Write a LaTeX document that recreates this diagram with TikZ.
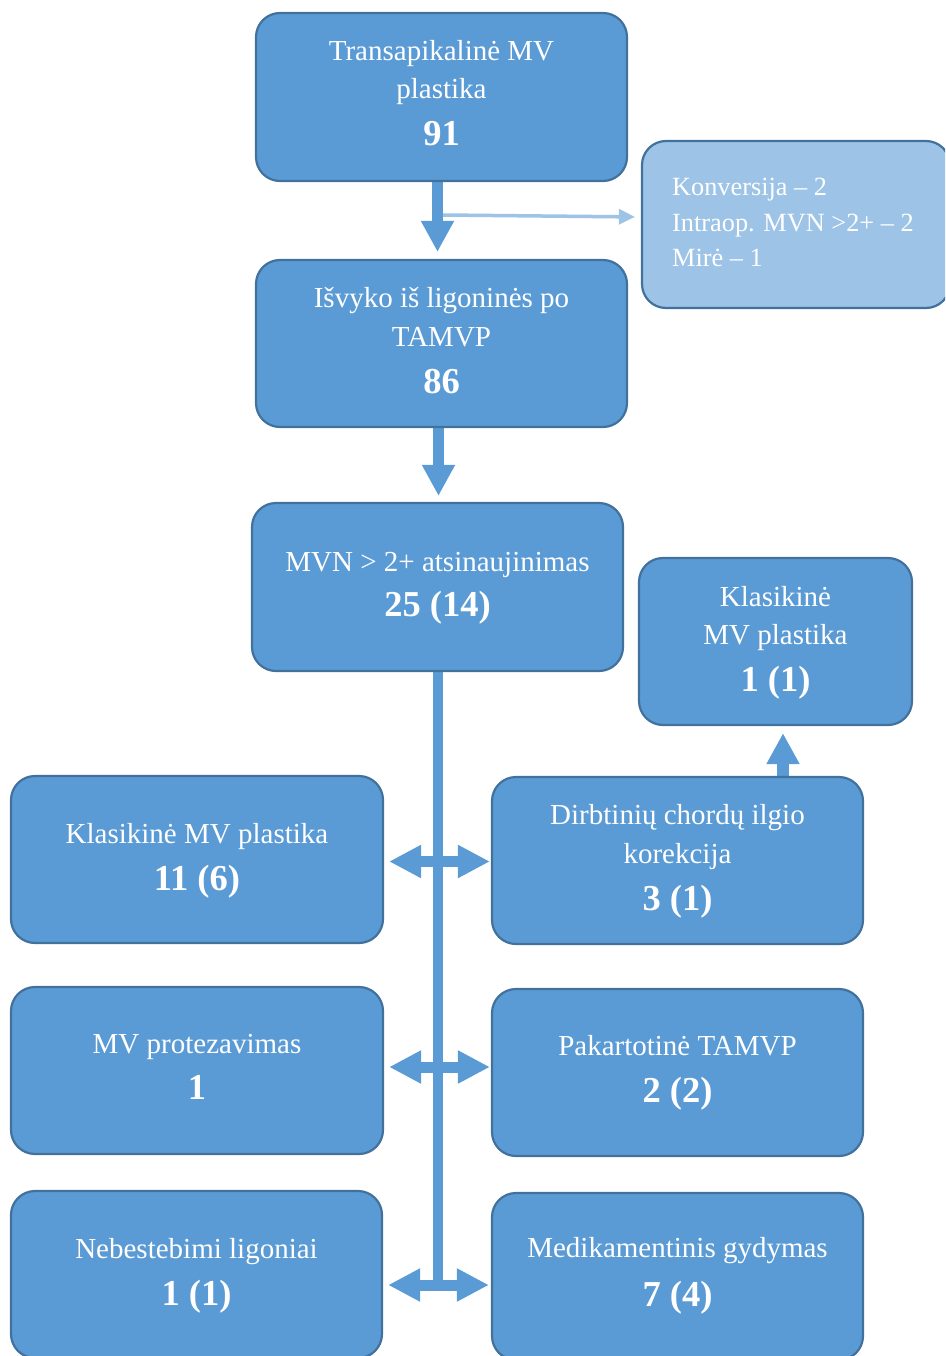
\documentclass[tikz,border=0pt]{standalone}
\usepackage{fontspec}
\setmainfont{Liberation Serif}
\usetikzlibrary{arrows.meta,backgrounds}
\definecolor{boxfill}{HTML}{5B9BD5}
\definecolor{boxline}{HTML}{41719C}
\definecolor{lightfill}{HTML}{9DC3E6}
\newcommand{\bignum}[1]{{\fontsize{36.5}{36.5}\selectfont\bfseries #1}}
\begin{document}
\begin{tikzpicture}[x=1pt,y=-1pt,
  box/.style={draw=boxline, line width=2.2pt, fill=boxfill, rounded corners=24pt, inner sep=0pt},
  lightbox/.style={box, fill=lightfill},
  lbl/.style={text=white, align=center, inner sep=0pt, font=\fontsize{29}{38.5}\selectfont},
  lightlbl/.style={text=white, align=left, inner sep=0pt, anchor=west, font=\fontsize{26.3}{35.5}\selectfont},
  flow/.style={draw=boxfill, line width=11pt, -{Triangle[width=31pt,length=31pt]}},
  thinflow/.style={draw=lightfill, line width=3.5pt, -{Triangle[width=15pt,length=16pt]}},
  trunk/.style={draw=boxfill, line width=10pt},
  both/.style={draw=boxfill, line width=11pt, {Triangle[width=31pt,length=32pt]}-{Triangle[width=31pt,length=32pt]}}]
\useasboundingbox (0,0) rectangle (945,1356);
\clip (0,0) rectangle (945,1356);

% boxes
\node[box, minimum width=371pt, minimum height=168pt] (b1) at (441.5,97) {};
\node[box, minimum width=371pt, minimum height=167pt] (b2) at (441.5,343.5) {};
\node[box, minimum width=371pt, minimum height=168pt] (b3) at (437.5,587) {};
\node[lightbox, minimum width=308pt, minimum height=167pt] (lb) at (796,224.5) {};
\node[box, minimum width=273pt, minimum height=167pt] (bs) at (775.5,641.5) {};
\node[box, minimum width=372pt, minimum height=167pt] (l1) at (197,859.5) {};
\node[box, minimum width=371pt, minimum height=167pt] (r1) at (677.5,860.5) {};
\node[box, minimum width=372pt, minimum height=167pt] (l2) at (197,1070.5) {};
\node[box, minimum width=371pt, minimum height=167pt] (r2) at (677.5,1072.5) {};
\node[box, minimum width=371pt, minimum height=167pt] (l3) at (196.5,1274.5) {};
\node[box, minimum width=371pt, minimum height=167pt] (r3) at (677.5,1276.5) {};

% texts
\node[lbl] (t1) at (441.5,93) {Transapikalinė MV\\plastika\\[8.5pt]\bignum{91}};
\node[lbl] (t2) at (441.5,340.5) {Išvyko iš ligoninės po\\TAMVP\\[8.5pt]\bignum{86}};
\node[lbl] (t3) at (437.5,588.5) {MVN > 2+ atsinaujinimas\\[6.5pt]\bignum{25 (14)}};
\node[lightlbl] (tl) at (672,222.5) {Konversija – 2\\Intraop. MVN >2+ – 2\\Mirė – 1};
\node[lbl] (ts) at (775.5,643) {Klasikinė\\MV plastika\\[8.5pt]\bignum{1 (1)}};
\node[lbl] (tl1) at (197,861) {Klasikinė MV plastika\\[9pt]\bignum{11 (6)}};
\node[lbl] (tr1) at (677.5,861.5) {Dirbtinių chordų ilgio\\korekcija\\[8.5pt]\bignum{3 (1)}};
\node[lbl] (tl2) at (197,1067) {MV protezavimas\\[8pt]\bignum{1}};
\node[lbl] (tr2) at (677.5,1072.5) {Pakartotinė TAMVP\\[8.5pt]\bignum{2 (2)}};
\node[lbl] (tl3) at (196.5,1275.5) {Nebestebimi ligoniai\\[8.5pt]\bignum{1 (1)}};
\node[lbl] (tr3) at (677.5,1276) {Medikamentinis gydymas\\[10.5pt]\bignum{7 (4)}};

% connectors
\coordinate (split) at (443,215);
\coordinate (a1) at ([yshift=-2pt]l1.east);
\coordinate (a2) at ([yshift=3.5pt]l2.east);
\coordinate (a3) at ([yshift=-10.5pt]l3.east);
\coordinate (tend) at (b3.south |- a3);
\coordinate (u0) at ([xshift=105.5pt]r1.north);
\begin{scope}[on background layer]
  \draw[flow, shorten >=7pt] ([xshift=-4pt]b1.south) -- ([xshift=-4pt]b2.north);
  \draw[thinflow, shorten >=6pt] (split) -- ([yshift=7.5pt]lb.west);
  \draw[flow, shorten >=6pt] ([xshift=-3pt]b2.south) -- ([xshift=1pt]b3.north);
  \draw[trunk] (b3.south) -- (tend);
  \draw[both, shorten <=5pt, shorten >=1pt] (a1) -- (a1 -| r1.west);
  \draw[both, shorten <=5pt, shorten >=1pt] (a2) -- (a2 -| r2.west);
  \draw[both, shorten <=5pt, shorten >=2pt] (a3) -- (a3 -| r3.west);
  \draw[flow, line width=12pt, shorten >=7pt] (u0) -- (u0 |- bs.south);
\end{scope}
\end{tikzpicture}
\end{document}
